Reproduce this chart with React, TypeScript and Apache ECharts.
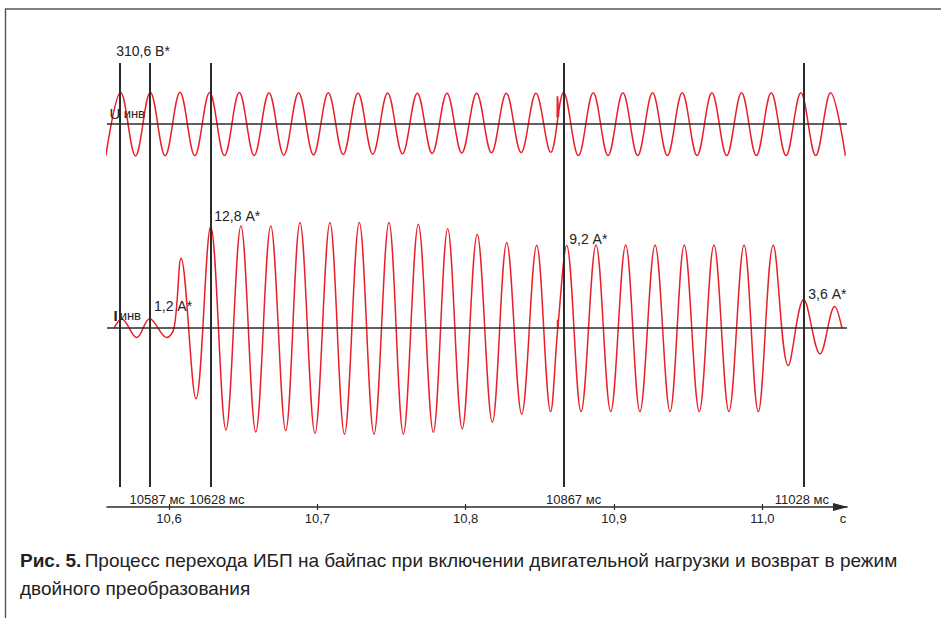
import React, { useEffect, useRef } from 'react';
import * as echarts from 'echarts';

// ---- axis ----
const X_MIN = 10558.2; // ms
const X_MAX = 11057.1; // ms
const tickValues = [10600, 10700, 10800, 10900, 11000];
const tickLabels = ['10,6', '10,7', '10,8', '10,9', '11,0'];
const axisUnit = 'с';

// ---- vertical markers ----
const markerTimes = [10566.5, 10587, 10628, 10866, 11028];
const markerLabels = ['', '10587 мс', '10628 мс', '10867 мс', '11028 мс'];

// ---- inverter voltage: extrema (ms, V) ----
const voltageT = [
  10557.4, 10567.4, 10577.4, 10587.4, 10597.4, 10607.4, 10617.4, 10627.4, 10637.4, 10647.4,
  10657.4, 10667.4, 10677.4, 10687.4, 10697.4, 10707.4, 10717.4, 10727.4, 10737.4, 10747.4,
  10757.4, 10767.4, 10777.4, 10787.4, 10797.4, 10807.4, 10817.4, 10827.4, 10837.4, 10847.4,
  10857.4,
  10866.0, 10876.0, 10886.0, 10896.0, 10906.0, 10916.0, 10926.0, 10936.0, 10946.0, 10956.0,
  10966.0, 10976.0, 10986.0, 10996.0, 11006.0, 11016.0, 11026.0, 11036.0, 11046.0, 11056.0,
];
const voltageV = [
  -323, 310.6, -323, 310, -322, 310, -321, 309, -320, 308,
  -318, 307, -316, 306, -313, 305, -310, 304, -306, 303,
  -302, 302, -298, 301, -295, 301, -292, 300, -290, 300,
  -287,
  308, -320, 305, -320, 305, -320, 305, -320, 305, -320,
  305, -320, 305, -320, 305, -320, 305, -320, 305, -320,
];
const voltageGlitchT = [10861.8, 10861.9, 10862.6];
const voltageGlitchV = [60, 270, 70];

// ---- inverter current: extrema (ms, A) ----
const currentT = [
  10562.9, 10568.1, 10578.2, 10587.0, 10598.4, 10603.4, 10608.1, 10618.2, 10628.1, 10638.4,
  10648.5, 10658.5, 10668.6, 10678.7, 10688.3, 10698.4, 10708.5, 10718.3, 10728.3, 10738.2,
  10748.3, 10758.0, 10768.1, 10778.2, 10787.9, 10797.7, 10807.8, 10818.0, 10827.7, 10837.8,
  10847.9, 10857.3, 10862.1, 10868.1, 10877.8, 10887.9, 10897.8, 10907.9, 10917.5, 10927.7,
  10937.8, 10947.4, 10957.5, 10967.4, 10977.5, 10987.7, 10997.3, 11007.4, 11017.5, 11027.9,
  11038.9, 11048.8, 11053.7,
];
const currentV = [
  0, 1.17, -1.18, 1.2, -1.18, 0, 8.82, -8.9, 12.8, -12.81,
  12.88, -13.06, 12.88, -12.9, 13.3, -13.22, 13.3, -13.35, 13.3, -13.35,
  13.3, -13.35, 13.1, -13.1, 12.54, -12.68, 11.79, -11.84, 10.78, -10.83,
  10.45, -10.5, 0, 10.4, -10.5, 10.49, -10.5, 10.49, -10.5, 10.49,
  -10.5, 10.49, -10.5, 10.49, -10.5, 10.49, -10.5, 10.45, -4.71, 3.6,
  -3.24, 2.72, 0,
];
const currentGlitchT = [10862.0, 10862.05, 10862.4];
const currentGlitchV = [0, 1.05, 0.2];

// ---- notes on the curves ----
const noteTexts = ['310,6 В*', '1,2 А*', '12,8 А*', '9,2 А*', '3,6 А*'];
const noteSeries = ['U', 'I', 'I', 'I', 'I'];
const noteTimes = [10567.4, 10587.0, 10628.1, 10868.1, 11027.9];
const noteValues = [310.6, 1.2, 12.8, 10.4, 3.6];

const captionBold = 'Рис. 5.';
const captionLine1 = 'Процесс перехода ИБП на байпас при включении двигательной нагрузки и возврат в режим';
const captionLine2 = 'двойного преобразования';

const RED = '#e8202a';
const INK = '#222222';
const LINE = '#2b2b2b';
const FONT = '"Liberation Sans", Arial, sans-serif';

export default function App() {
  const ref = useRef<HTMLDivElement>(null);

  useEffect(() => {
    if (!ref.current) return;
    const chart = echarts.init(ref.current, null, { renderer: 'svg' });

    const voltageData = voltageT.map((t, i) => [t, voltageV[i]]);
    const currentData = currentT.map((t, i) => [t, currentV[i]]);
    const vGlitch = voltageGlitchT.map((t, i) => [t, voltageGlitchV[i]]);
    const cGlitch = currentGlitchT.map((t, i) => [t, currentGlitchV[i]]);

    const option: any = {
      animation: false,
      backgroundColor: '#ffffff',
      grid: { left: 107, right: 94, top: 63, bottom: 131, containLabel: false },
      xAxis: [
        {
          type: 'value',
          min: X_MIN,
          max: X_MAX,
          position: 'bottom',
          offset: 20,
          axisLine: {
            show: true,
            onZero: false,
            lineStyle: { color: LINE, width: 1.5 },
            symbol: ['none', 'triangle'],
            symbolSize: [8, 15],
            symbolOffset: [0, -6.5],
          },
          axisTick: { show: true, length: 3, lineStyle: { color: LINE, width: 1.2 }, customValues: tickValues },
          axisLabel: {
            show: true,
            margin: 5,
            color: INK,
            fontSize: 13,
            fontFamily: FONT,
            customValues: tickValues,
            formatter: (v: number) => {
              const i = tickValues.indexOf(Math.round(v));
              return i >= 0 ? tickLabels[i] : '';
            },
          },
          splitLine: { show: false },
        },
        {
          type: 'value',
          min: X_MIN,
          max: X_MAX,
          position: 'bottom',
          offset: 20,
          axisLine: { show: false, onZero: false },
          axisTick: { show: true, inside: true, length: 3, lineStyle: { color: LINE, width: 1.2 }, customValues: tickValues },
          axisLabel: { show: false },
          splitLine: { show: false },
        },
      ],
      yAxis: [
        { type: 'value', min: -3619, max: 602, show: false, splitLine: { show: false } },
        { type: 'value', min: -20, max: 33.4, show: false, splitLine: { show: false } },
      ],
      series: [
        {
          name: 'U-axis',
          type: 'line',
          yAxisIndex: 0,
          data: [],
          z: 1,
          silent: true,
          markLine: {
            silent: true,
            symbol: 'none',
            label: { show: false },
            lineStyle: { color: LINE, width: 1.6, type: 'solid' },
            data: [{ yAxis: 0 }],
          },
        },
        {
          name: 'I-axis',
          type: 'line',
          yAxisIndex: 1,
          data: [],
          z: 1,
          silent: true,
          markLine: {
            silent: true,
            symbol: 'none',
            label: { show: false },
            lineStyle: { color: LINE, width: 1.6, type: 'solid' },
            data: [
              { yAxis: 0 },
              ...markerTimes.map((t) => ({ xAxis: t, lineStyle: { width: 2, color: LINE } })),
            ],
          },
        },
        {
          name: 'U',
          type: 'line',
          yAxisIndex: 0,
          data: voltageData,
          smooth: 0.36,
          showSymbol: false,
          symbol: 'none',
          z: 3,
          lineStyle: { color: RED, width: 1.5 },
        },
        {
          name: 'I',
          type: 'line',
          yAxisIndex: 1,
          data: currentData,
          smooth: 0.36,
          showSymbol: false,
          symbol: 'none',
          z: 3,
          lineStyle: { color: RED, width: 1.5 },
        },
        {
          name: 'U-glitch',
          type: 'line',
          yAxisIndex: 0,
          data: vGlitch,
          showSymbol: false,
          symbol: 'none',
          z: 3,
          lineStyle: { color: RED, width: 1.8 },
        },
        {
          name: 'I-glitch',
          type: 'line',
          yAxisIndex: 1,
          data: cGlitch,
          showSymbol: false,
          symbol: 'none',
          z: 3,
          lineStyle: { color: RED, width: 1.8 },
        },
      ],
    };

    chart.setOption(option);

    const seriesIdx: Record<string, number> = { U: 2, I: 3 };
    const graphics: any[] = [];

    graphics.push({
      type: 'rect',
      z: -10,
      silent: true,
      shape: { x: 5.5, y: 9, width: 1200, height: 1200 },
      style: { fill: 'none', stroke: '#555555', lineWidth: 1.4 },
    });

    noteTexts.forEach((txt, i) => {
      const p = chart.convertToPixel({ seriesIndex: seriesIdx[noteSeries[i]] }, [noteTimes[i], noteValues[i]]) as number[];
      const shifts = [[-4.5, -41.5], [4.3, -12.8], [3.6, -10.7], [2.6, -6.4], [4.6, -5.7]];
      graphics.push({
        type: 'text',
        z: 10,
        x: p[0] + shifts[i][0],
        y: p[1] + shifts[i][1],
        style: {
          text: txt,
          fill: INK,
          font: `14px ${FONT}`,
          textAlign: 'left',
          align: 'left',
          textVerticalAlign: 'middle',
          verticalAlign: 'middle',
        },
      });
    });

    const markerShift = [0, 7.5, 6.3, 10, -2];
    markerTimes.forEach((t, i) => {
      if (!markerLabels[i]) return;
      const x = chart.convertToPixel({ xAxisIndex: 0 }, t) as number;
      graphics.push({
        type: 'text',
        z: 10,
        x: x + markerShift[i],
        y: 499.5,
        style: {
          text: markerLabels[i],
          fill: INK,
          font: `13px ${FONT}`,
          textAlign: 'center',
          align: 'center',
          textVerticalAlign: 'middle',
          verticalAlign: 'middle',
        },
      });
    });

    const xEnd = chart.convertToPixel({ xAxisIndex: 0 }, X_MAX) as number;
    graphics.push({
      type: 'text',
      z: 10,
      x: xEnd - 4,
      y: 518.5,
      style: {
        text: axisUnit,
        fill: INK,
        font: `13px ${FONT}`,
        textAlign: 'center',
        align: 'center',
        textVerticalAlign: 'middle',
        verticalAlign: 'middle',
      },
    });

    // U инв / I инв labels
    graphics.push({
      type: 'text',
      z: 10,
      x: 109.5,
      y: 121,
      style: {
        text: '{u|U} {s|инв}',
        fill: INK,
        textAlign: 'left',
        align: 'left',
        textVerticalAlign: 'bottom',
        verticalAlign: 'bottom',
        rich: {
          u: { fontSize: 15, fontFamily: FONT, fill: INK, color: INK },
          s: { fontSize: 13, fontFamily: FONT, fill: INK, color: INK },
        },
      },
    });
    graphics.push({
      type: 'text',
      z: 10,
      x: 113.5,
      y: 323,
      style: {
        text: '{u|I}{s|инв}',
        fill: INK,
        textAlign: 'left',
        align: 'left',
        textVerticalAlign: 'bottom',
        verticalAlign: 'bottom',
        rich: {
          u: { fontSize: 15, fontWeight: 'bold', fontFamily: FONT, fill: INK, color: INK },
          s: { fontSize: 13, fontFamily: FONT, fill: INK, color: INK, padding: [0, 0, 0, 2] },
        },
      },
    });

    // caption
    graphics.push({
      type: 'text',
      z: 10,
      x: 20,
      y: 560,
      style: {
        text: `{b|${captionBold}} {n|${captionLine1}}`,
        textAlign: 'left',
        align: 'left',
        textVerticalAlign: 'middle',
        verticalAlign: 'middle',
        rich: {
          b: { fontSize: 19, fontWeight: 'bold', fontFamily: FONT, fill: INK, color: INK },
          n: { fontSize: 19, fontFamily: FONT, fill: INK, color: INK },
        },
      },
    });
    graphics.push({
      type: 'text',
      z: 10,
      x: 20,
      y: 588,
      style: {
        text: captionLine2,
        fill: INK,
        font: `19px ${FONT}`,
        textAlign: 'left',
        align: 'left',
        textVerticalAlign: 'middle',
        verticalAlign: 'middle',
      },
    });

    chart.setOption({ graphic: graphics });

    return () => {
      chart.dispose();
    };
  }, []);

  return (
    <div
      ref={ref}
      style={{ position: 'fixed', left: 0, top: 0, width: 941, height: 618, background: '#ffffff' }}
    />
  );
}
